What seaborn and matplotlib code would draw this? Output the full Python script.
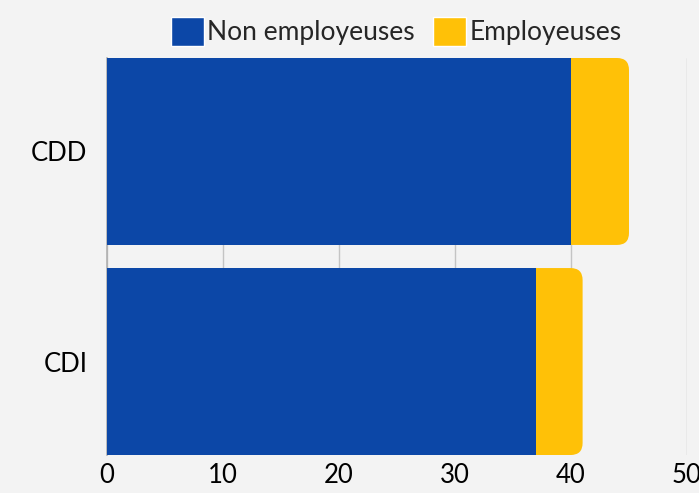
import numpy as np
import pandas as pd
import matplotlib.pyplot as plt
import seaborn as sns
from matplotlib.patches import FancyBboxPatch, Patch

# data
contrats = ['CDD', 'CDI']
non_employeuses = [40, 37]
employeuses = [5, 4]
totals = [a + b for a, b in zip(non_employeuses, employeuses)]

bleu = '#0c47a7'
jaune = '#ffc107'
fond = '#f3f3f3'

sns.set_theme(style='white')
plt.rcParams['font.family'] = ['Lato', 'DejaVu Sans']

df = pd.DataFrame({'contrat': contrats, 'non': non_employeuses, 'total': totals})

fig = plt.figure(figsize=(6.99, 4.93), dpi=100, facecolor=fond)
ax = fig.add_axes([107 / 699, 1 - 455 / 493, 580 / 699, (455 - 58) / 493])
ax.set_facecolor(fond)

# yellow (total) bars first, blue on top
sns.barplot(data=df, x='total', y='contrat', color=jaune, width=0.89,
            saturation=1, linewidth=0, ax=ax, zorder=2)
n_yellow = len(ax.patches)
sns.barplot(data=df, x='non', y='contrat', color=bleu, width=0.89,
            saturation=1, linewidth=0, ax=ax, zorder=3)

# replace yellow bars with rounded ones (right end rounded)
px_x = 580 / 50.0
px_y = 209.5
for p in list(ax.patches[:n_yellow]):
    x0, y0 = p.get_x(), p.get_y()
    w, h = p.get_width(), p.get_height()
    p.remove()
    r = 12 / px_x
    fb = FancyBboxPatch((x0 + 20, y0), w - 20, h,
                        boxstyle=f'round,pad=0,rounding_size={r}',
                        mutation_aspect=px_x / px_y,
                        facecolor=jaune, edgecolor='none', linewidth=0,
                        zorder=2)
    ax.add_patch(fb)

ax.set_xlim(0, 50)
ax.set_ylim(1 + 0.445, -0.445)
ax.set_xticks([0, 10, 20, 30, 40, 50])
ax.xaxis.grid(True, color='#c4c4c4', linewidth=1, zorder=0)
ax.set_axisbelow(True)
ax.set_xlabel('')
ax.set_ylabel('')
for s in ['top', 'right', 'bottom']:
    ax.spines[s].set_visible(False)
ax.spines['left'].set_color('#b0b0b0')
ax.spines['left'].set_linewidth(1.2)
ax.tick_params(axis='x', length=0, pad=6, labelsize=18.5, colors='black')
ax.tick_params(axis='y', length=0, pad=14, labelsize=18.5, colors='black')

handles = [Patch(facecolor=bleu, label='Non employeuses'),
           Patch(facecolor=jaune, label='Employeuses')]
fig.legend(handles=handles, loc='center', bbox_to_anchor=(0.567, 0.937),
           ncol=2, frameon=False, fontsize=19, handlelength=1.25,
           handleheight=1.32, handletextpad=0.12, columnspacing=0.7,
           borderaxespad=0)

fig.savefig('out.png', dpi=100, facecolor=fond)
